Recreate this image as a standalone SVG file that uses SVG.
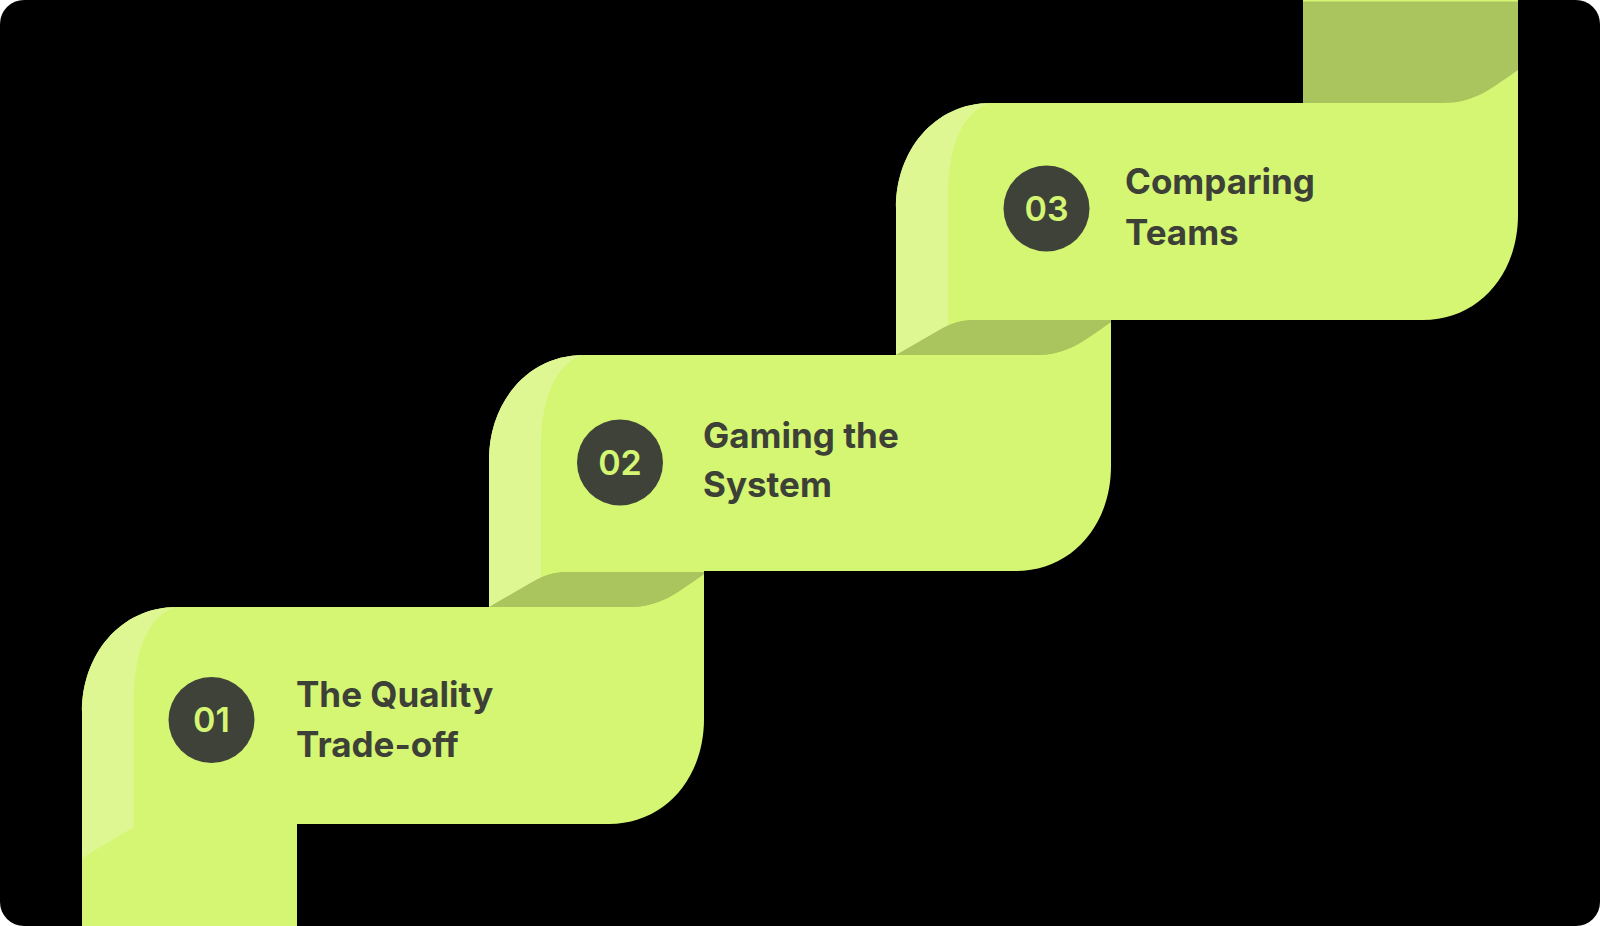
<svg xmlns="http://www.w3.org/2000/svg" width="1600" height="926" viewBox="0 0 1600 926">
<style>
.g{fill:#d4f673}
.hl{fill:#def792}
.dk{fill:#aac45e}
.circ{fill:#3f4239}
.num{font-family:Inter,"Noto Sans",sans-serif;font-weight:600;font-size:34px;fill:#d4f673;text-anchor:middle}
.ttl{font-family:Inter,"Noto Sans",sans-serif;font-weight:700;font-size:35px;fill:#3d4036}
</style>
<rect x="0" y="0" width="1600" height="926" fill="#ffffff"/>
<rect x="0" y="0" width="1600" height="926" rx="24" ry="24" fill="#000000"/>
<g id="ribbon">
  <rect class="dk" x="1303" y="0" width="215" height="106"/>
  <rect class="g" x="1303" y="0" width="215" height="1.5"/>
  <rect class="g" x="896" y="300" width="215" height="58"/>
  <path class="dk" d="M896,355 L934,333 C946,326 956,320 976,320 L1111,320 L1111,355 Z"/>
  <rect class="g" x="489" y="550" width="215" height="60"/>
  <path class="dk" d="M489,607 L527,585 C539,578 549,572 569,572 L704,572 L704,607 Z"/>
  <rect class="g" x="82" y="800" width="215" height="126"/>
</g>
<g id="step1">
  <path class="g" d="M82,712 C82,655 120,607 177,607 L629,607 C659,607 674,595 704,574 L704,719 C704,779 664,824 609,824 L82,824 Z"/>
  <path class="hl" d="M82,712 C82,655 120,607 177,607 C155,612 134,640 134,700 L134,827 L82,858 Z"/>
  <circle class="circ" cx="211.5" cy="720" r="43"/>
  <text class="num" x="211.5" y="732">01</text>
  <text class="ttl" x="296" y="707">The Quality</text>
  <text class="ttl" x="296" y="757">Trade-off</text>
</g>
<g id="step2">
  <path class="g" d="M489,460 C489,403 527,355 584,355 L1036,355 C1066,355 1081,343 1111,322 L1111,466 C1111,526 1071,571 1016,571 L489,571 Z"/>
  <path class="hl" d="M489,460 C489,403 527,355 584,355 C562,360 541,388 541,448 L541,607 L489,607 Z"/>
  <circle class="circ" cx="620" cy="462.5" r="43"/>
  <text class="num" x="620" y="474.5">02</text>
  <text class="ttl" x="703" y="448">Gaming the</text>
  <text class="ttl" x="703" y="497">System</text>
</g>
<g id="step3">
  <path class="g" d="M896,208 C896,151 934,103 991,103 L1443,103 C1473,103 1488,91 1518,70 L1518,215 C1518,275 1478,320 1423,320 L896,320 Z"/>
  <path class="hl" d="M896,208 C896,151 934,103 991,103 C969,108 948,136 948,196 L948,355 L896,355 Z"/>
  <circle class="circ" cx="1046.5" cy="208.5" r="43"/>
  <text class="num" x="1046.5" y="220.5">03</text>
  <text class="ttl" x="1125" y="194">Comparing</text>
  <text class="ttl" x="1125" y="245">Teams</text>
</g>
<g id="folds">
  <path class="dk" d="M896,355 L934,333 C946,326 956,320 976,320 L1111,320 L1111,322 C1081,343 1066,355 1036,355 Z"/>
  <path class="dk" d="M489,607 L527,585 C539,578 549,572 569,572 L704,572 L704,574 C674,595 659,607 629,607 Z"/>
</g>
</svg>
